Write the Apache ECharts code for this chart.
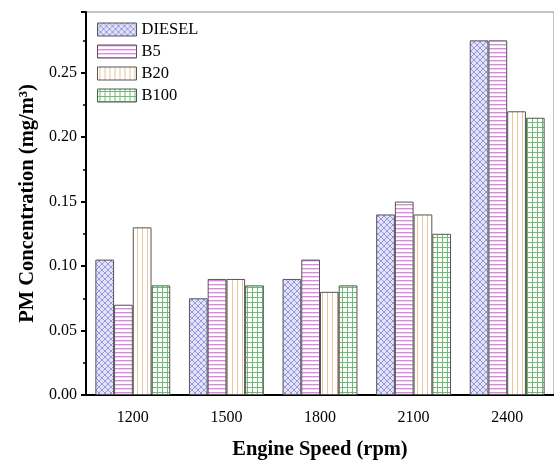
<!DOCTYPE html>
<html>
<head>
<meta charset="utf-8">
<script src="https://cdn.jsdelivr.net/npm/echarts@6/dist/echarts.min.js"></script>
<style>
  html, body { margin: 0; padding: 0; background: #fff; }
  #chart { width: 554px; height: 465px; }
</style>
</head>
<body>
<div id="chart"></div>
<script>
// Engine speeds (rpm) on the category axis
const speeds = ['1200', '1500', '1800', '2100', '2400'];
// PM concentration (mg/m3) per fuel
const diesel = [0.105, 0.075, 0.090, 0.140, 0.275];
const b5     = [0.070, 0.090, 0.105, 0.150, 0.275];
const b20    = [0.130, 0.090, 0.080, 0.140, 0.220];
const b100   = [0.085, 0.085, 0.085, 0.125, 0.215];
const fuels  = ['DIESEL', 'B5', 'B20', 'B100'];

const FONT = '"Liberation Serif", "Times New Roman", serif';

// Small repeating tiles used as hatch fills (a fresh tile per use)
function tile(w, h, draw) {
  const c = document.createElement('canvas');
  c.width = w; c.height = h;
  const g = c.getContext('2d');
  draw(g, w, h);
  return { image: c, repeat: 'repeat' };
}
const painters = [
  // DIESEL: diagonal cross-hatch on pale lavender
  (g, w, h) => {
    g.fillStyle = '#e2e2f8'; g.fillRect(0, 0, w, h);
    g.strokeStyle = '#8585d8'; g.lineWidth = 0.8;
    g.beginPath();
    g.moveTo(0, 0); g.lineTo(w, h);
    g.moveTo(w, 0); g.lineTo(0, h);
    g.stroke();
  },
  // B5: horizontal magenta lines with a soft pink edge
  (g, w, h) => {
    g.fillStyle = '#ffffff'; g.fillRect(0, 0, w, h);
    for (let y = 0; y < h; y += 4) {
      g.fillStyle = '#da8ade'; g.fillRect(0, y, w, 1);
      g.fillStyle = '#f3d3f4'; g.fillRect(0, y + 1, w, 1);
    }
  },
  // B20: vertical tan lines
  (g, w, h) => {
    g.fillStyle = '#ffffff'; g.fillRect(0, 0, w, h);
    g.fillStyle = '#ebc59c';
    for (let x = 2; x < w; x += 5) g.fillRect(x, 0, 1, h);
  },
  // B100: green square grid
  (g, w, h) => {
    g.fillStyle = '#ffffff'; g.fillRect(0, 0, w, h);
    g.fillStyle = '#6dbb73';
    for (let y = 2; y < h; y += 5) g.fillRect(0, y, w, 1);
    for (let x = 2; x < w; x += 5) g.fillRect(x, 0, 1, h);
  }
];
const tileSizes = [[6, 6], [8, 8], [10, 10], [10, 10]];
const makeFill = i => tile(tileSizes[i][0], tileSizes[i][1], painters[i]);

const values = [diesel, b5, b20, b100];

const chart = echarts.init(document.getElementById('chart'), null, { renderer: 'canvas' });
chart.setOption({
  animation: false,
  backgroundColor: '#fff',
  grid: {
    left: 86, right: -7, top: 12, bottom: 65,
    show: true, borderColor: '#8a8a8a', borderWidth: 1
  },
  legend: {
    left: 97, top: 21, orient: 'vertical', padding: 0,
    icon: 'rect',
    itemWidth: 39, itemHeight: 13, itemGap: 5,
    textStyle: { fontFamily: FONT, fontSize: 16.5, color: '#000' },
    data: fuels.map((name, i) => ({
      name,
      itemStyle: { color: makeFill(i), borderColor: '#555', borderWidth: 1 }
    }))
  },
  xAxis: {
    type: 'category',
    data: speeds,
    name: 'Engine Speed (rpm)',
    nameLocation: 'middle',
    nameGap: 44,
    nameTextStyle: { fontFamily: FONT, fontSize: 20.5, fontWeight: 'bold', color: '#000' },
    axisLine: { lineStyle: { color: '#000', width: 2 } },
    axisTick: { alignWithLabel: true, length: 5, lineStyle: { color: '#000', width: 2.5 } },
    axisLabel: { fontFamily: FONT, fontSize: 16, color: '#000', margin: 15 }
  },
  yAxis: {
    type: 'value',
    min: 0, max: 0.297, interval: 0.05,
    name: 'PM Concentration (mg/m³)',
    nameLocation: 'middle',
    nameGap: 46,
    nameTextStyle: { fontFamily: FONT, fontSize: 20.5, fontWeight: 'bold', color: '#000' },
    axisLine: { show: true, lineStyle: { color: '#000', width: 2 } },
    axisTick: { show: true, length: 5, lineStyle: { color: '#000', width: 2 } },
    minorTick: { show: true, splitNumber: 2, length: 3, lineStyle: { color: '#000', width: 1.5 } },
    splitLine: { show: false },
    axisLabel: {
      fontFamily: FONT, fontSize: 16, color: '#000', margin: 9,
      formatter: v => v.toFixed(2),
      showMaxLabel: false
    }
  },
  series: fuels.map((name, i) => ({
    name,
    type: 'bar',
    data: values[i],
    barGap: '0%',
    barCategoryGap: '20%',
    itemStyle: { color: makeFill(i), borderColor: '#555', borderWidth: 1 }
  }))
});
</script>
</body>
</html>
